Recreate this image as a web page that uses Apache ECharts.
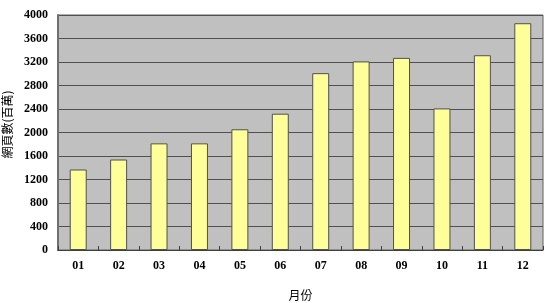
<!DOCTYPE html>
<html><head><meta charset="utf-8">
<script src="https://cdn.jsdelivr.net/npm/echarts@6/dist/echarts.min.js"></script>
<style>html,body{margin:0;padding:0;background:#fff}#c{width:550px;height:303px}</style>
</head><body><div id="c"></div>
<script>
const months = ['01','02','03','04','05','06','07','08','09','10','11','12'];
const pages = [1370, 1540, 1815, 1815, 2055, 2320, 3010, 3210, 3270, 2410, 3315, 3860];
const yTicks = {min: 0, max: 4000, interval: 400};
const xName = '月份';
const yName = '網頁數(百萬)';

const serif = '"Liberation Serif","Times New Roman",serif';
const chart = echarts.init(document.getElementById('c'), null, {renderer: 'canvas'});
chart.setOption({
  animation: false,
  grid: {left: 58, right: 7, top: 15, bottom: 53, containLabel: false, outerBoundsMode: 'none',
         show: true, backgroundColor: '#c0c0c0', borderColor: '#606060', borderWidth: 1},
  xAxis: {
    type: 'category', data: months,
    name: xName, nameLocation: 'middle', nameGap: 39,
    nameTextStyle: {fontFamily: '"Noto Sans CJK TC",serif', fontSize: 12, color: '#000'},
    axisLine: {show: true, lineStyle: {color: '#404040', width: 1}},
    axisTick: {show: true, inside: true, length: 4, lineStyle: {color: '#404040'}},
    axisLabel: {fontFamily: serif, fontWeight: 'bold', fontSize: 12, color: '#000', margin: 10},
    splitLine: {show: false}
  },
  yAxis: {
    type: 'value', min: yTicks.min, max: yTicks.max, interval: yTicks.interval,
    name: yName, nameLocation: 'middle', nameGap: 37, nameRotate: 90,
    nameTextStyle: {fontFamily: '"Noto Sans CJK TC",serif', fontSize: 12, color: '#000', padding: [0, 0, 0, 16]},
    axisLine: {show: true, lineStyle: {color: '#707070', width: 2}},
    axisTick: {show: false},
    axisLabel: {fontFamily: serif, fontWeight: 'bold', fontSize: 12, color: '#000', margin: 10,
                formatter: v => String(v)},
    splitLine: {show: true, lineStyle: {color: '#505050', width: 1}}
  },
  series: [{
    type: 'bar', data: pages, barWidth: '42%',
    itemStyle: {color: '#ffff99', borderColor: '#505050', borderWidth: 1}
  }]
});
</script></body></html>
